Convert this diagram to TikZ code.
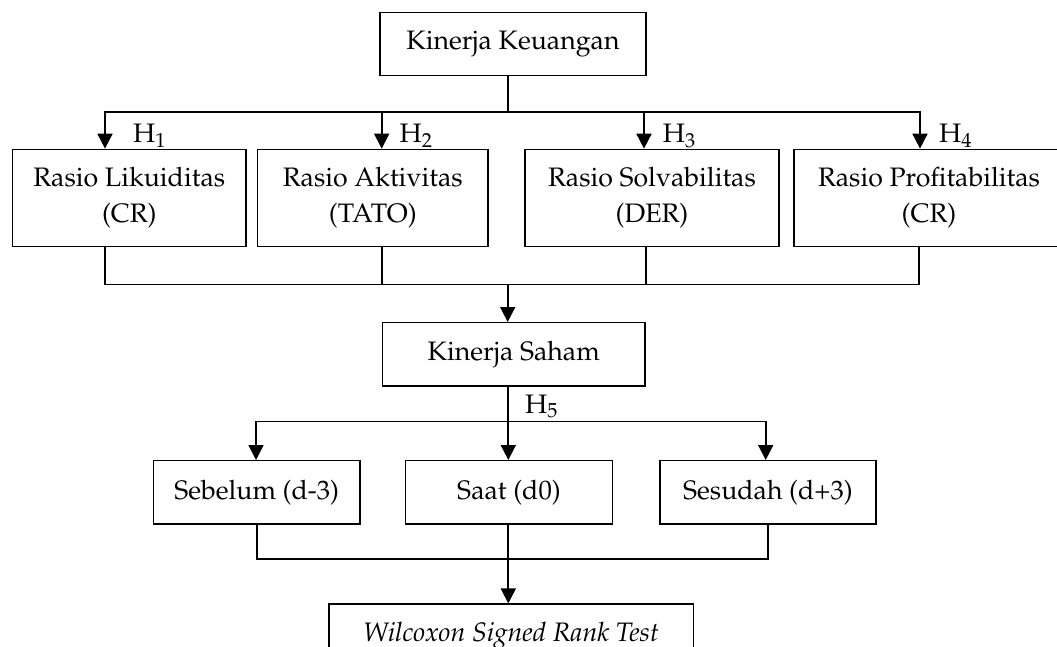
\documentclass[tikz,border=0pt]{standalone}
\usepackage[T1]{fontenc}
\usepackage{mathpazo}
\usetikzlibrary{arrows.meta}
\begin{document}
\begin{tikzpicture}[x=1pt,y=-1pt,
  box/.style={draw, line width=1.3pt, inner sep=0pt, align=center, font=\fontsize{26.7}{36}\selectfont},
  conn/.style={line width=1.7pt, line cap=rect},
  arr/.style={line width=1.7pt, -{Triangle[width=15pt,length=15pt]}},
  hlab/.style={anchor=base west, inner sep=0pt, font=\fontsize{26.7}{36}\selectfont}]
\useasboundingbox (0,0) rectangle (1057,647);
\clip (0,0) rectangle (1057,647);
% boxes
\node[box, minimum width=266pt, minimum height=63pt] (kk) at (513,43.7) {Kinerja Keuangan};
\node[box, minimum width=233.3pt, minimum height=97.4pt] (r1) at (129.3,198) {Rasio Likuiditas\\(CR)};
\node[box, minimum width=230.3pt, minimum height=97.4pt] (r2) at (372.8,198) {Rasio Aktivitas\\(TATO)};
\node[box, minimum width=254pt, minimum height=97.4pt] (r3) at (652,198) {Rasio Solvabilitas\\(DER)};
\node[box, minimum width=270pt, minimum height=97.4pt] (r4) at (929,198) {Rasio Profitabilitas\\(CR)};
\node[box, minimum width=262.3pt, minimum height=63.3pt] (ks) at (513.8,354.3) {Kinerja Saham};
\node[box, minimum width=206.7pt, minimum height=63.3pt] (sb) at (256.7,492.3) {Sebelum (d-3)};
\node[box, minimum width=206.7pt, minimum height=63.3pt] (st) at (509,492.3) {Saat (d0)};
\node[box, minimum width=216pt, minimum height=63.3pt] (sd) at (768,492.3) {Sesudah (d+3)};
\node[box, minimum width=364.3pt, minimum height=63.3pt] (wx) at (511,635.7) {\textit{Wilcoxon Signed Rank Test}};
% labels
\node[hlab] (h1) at (133,142.7) {H$_1$};
\node[hlab] (h2) at (399.5,142.7) {H$_2$};
\node[hlab] (h3) at (662.7,142.7) {H$_3$};
\node[hlab] (h4) at (939,142.7) {H$_4$};
\node[hlab] (h5) at (525,413.3) {H$_5$};
% bus 1
\coordinate (b1) at (508,111.7);
\coordinate (t1) at (105,111.7);
\coordinate (t2) at (381.7,111.7);
\coordinate (t3) at (644,111.7);
\coordinate (t4) at (920,111.7);
\draw[conn] (kk.south -| b1) -- (b1);
\draw[conn] (t1) -- (t4);
\draw[arr] (t1) -- (t1 |- r1.north);
\draw[arr] (t2) -- (t2 |- r2.north);
\draw[arr] (t3) -- (t3 |- r3.north);
\draw[arr] (t4) -- (t4 |- r4.north);
% bus 2
\coordinate (u1) at (105,284.5);
\coordinate (u2) at (381.7,284.5);
\coordinate (u3) at (645.7,284.5);
\coordinate (u4) at (919.3,284.5);
\coordinate (uc) at (507.7,284.5);
\draw[conn] (r1.south -| u1) -- (u1);
\draw[conn] (r2.south -| u2) -- (u2);
\draw[conn] (r3.south -| u3) -- (u3);
\draw[conn] (r4.south -| u4) -- (u4);
\draw[conn] (u1) -- (u4);
\draw[arr] (uc) -- (uc |- ks.north);
% bus 3
\coordinate (c3) at (508,421.5);
\coordinate (v1) at (256,421.5);
\coordinate (v2) at (508.3,421.5);
\coordinate (v3) at (765.7,421.5);
\draw[conn] (ks.south -| c3) -- (c3);
\draw[conn] (v1) -- (v3);
\draw[arr] (v1) -- (v1 |- sb.north);
\draw[arr] (v2) -- (v2 |- st.north);
\draw[arr] (v3) -- (v3 |- sd.north);
% bus 4
\coordinate (w1) at (257.3,559.3);
\coordinate (w2) at (508.3,559.3);
\coordinate (w3) at (768.3,559.3);
\draw[conn] (sb.south -| w1) -- (w1);
\draw[conn] (st.south -| w2) -- (w2);
\draw[conn] (sd.south -| w3) -- (w3);
\draw[conn] (w1) -- (w3);
\draw[arr] (w2) -- (w2 |- wx.north);
\end{tikzpicture}
\end{document}
